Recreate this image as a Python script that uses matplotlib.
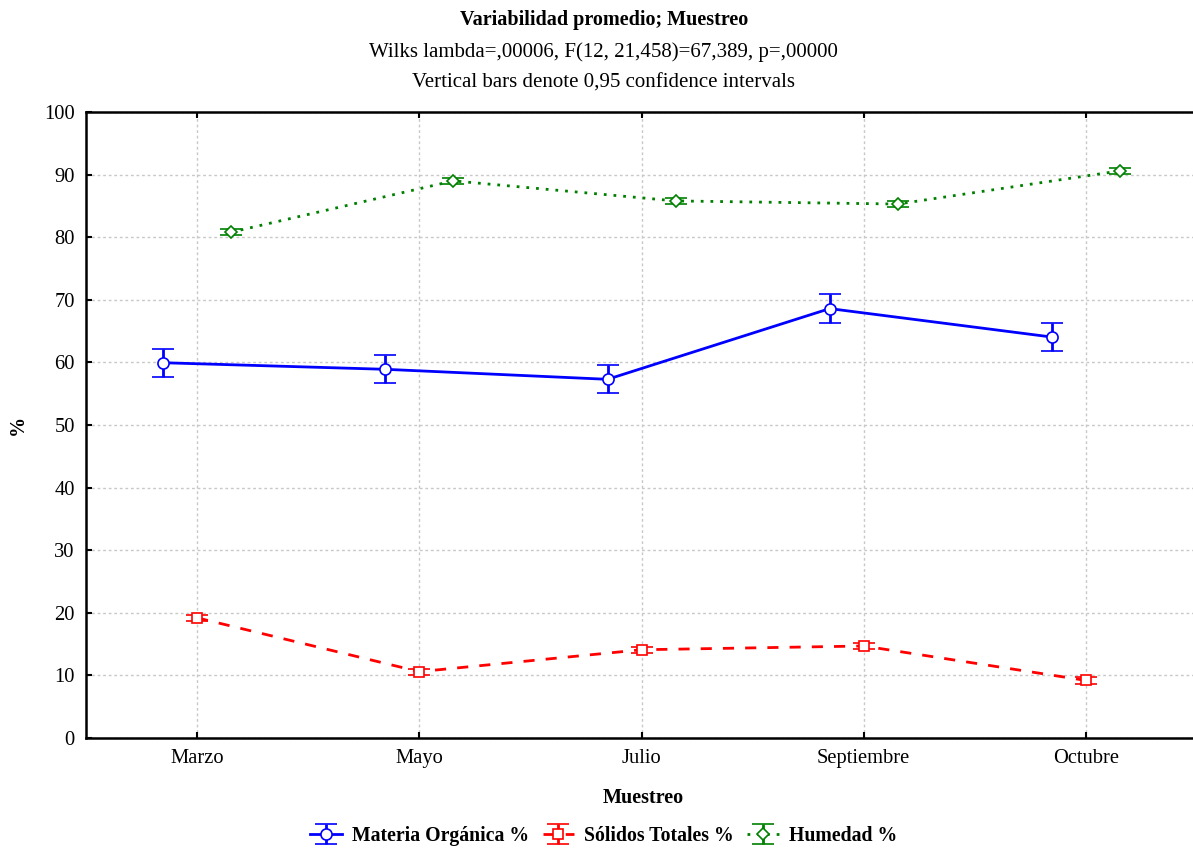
import matplotlib
matplotlib.use("Agg")
import matplotlib.pyplot as plt
import numpy as np

# Datos
meses = ["Marzo", "Mayo", "Julio", "Septiembre", "Octubre"]

materia = [59.95, 58.9, 57.3, 68.6, 64.05]
materia_ci = [2.2, 2.25, 2.25, 2.25, 2.25]

solidos = [19.2, 10.6, 14.1, 14.7, 9.2]
solidos_ci = [0.5, 0.5, 0.5, 0.5, 0.5]

humedad = [80.8, 89.0, 85.8, 85.3, 90.6]
humedad_ci = [0.45, 0.45, 0.45, 0.45, 0.45]

plt.rcParams['font.family'] = ['Liberation Serif', 'DejaVu Serif']

fig = plt.figure(figsize=(11.93, 8.48), dpi=100)
ax = fig.add_axes([0.0721, 0.1297, 0.9313, 0.7382])

x = np.arange(len(meses))
off = 0.153

ax.errorbar(x - off, materia, yerr=materia_ci, color='#0000ff', lw=2,
            marker='o', ms=8, mfc='white', mec='#0000ff', mew=1.2,
            capsize=8, capthick=2, elinewidth=2, label='Materia Orgánica %', zorder=4)
ax.errorbar(x, solidos, yerr=solidos_ci, color='#ff0000', lw=2, ls=(0, (4, 4)),
            marker='s', ms=7, mfc='white', mec='#ff0000', mew=1.2,
            capsize=8, capthick=2.5, elinewidth=2, label='Sólidos Totales %', zorder=4)
ax.errorbar(x + off, humedad, yerr=humedad_ci, color='#008000', lw=2, ls=(0, (1, 2.5)),
            marker='D', ms=6, mfc='white', mec='#008000', mew=1.2,
            capsize=8, capthick=2.5, elinewidth=2, label='Humedad %', zorder=4)

ax.set_xlim(-0.5, 4.5)
ax.set_ylim(0, 100)
ax.set_xticks(x)
ax.set_xticklabels(meses)
ax.set_yticks(np.arange(0, 101, 10))
ax.grid(True, color='#c8c8c8', ls=(0, (2, 2)), lw=1)
ax.tick_params(direction='in', top=True, length=4, width=1.5, labelsize=14.8, pad=8)
for s in ['left', 'bottom', 'top']:
    ax.spines[s].set_linewidth(1.8)
ax.spines['right'].set_visible(False)

fig.text(0.506, 0.976, 'Variabilidad promedio; Muestreo', ha='center', va='center',
         fontsize=14.5, fontweight='bold')
fig.text(0.506, 0.938, 'Wilks lambda=,00006, F(12, 21,458)=67,389, p=,00000',
         ha='center', va='center', fontsize=15)
fig.text(0.506, 0.902, 'Vertical bars denote 0,95 confidence intervals',
         ha='center', va='center', fontsize=15)
fig.text(0.539, 0.059, 'Muestreo', ha='center', va='center', fontsize=14.5, fontweight='bold')
fig.text(0.015, 0.499, '%', ha='center', va='center', fontsize=14.5, fontweight='bold',
         rotation=90)

fig.legend(loc='center', bbox_to_anchor=(0.506, 0.014), ncol=3, frameon=False,
           prop={'weight': 'bold', 'size': 14.2}, handlelength=1.6, columnspacing=0.7,
           handletextpad=0.5, borderaxespad=0)

fig.savefig('out.png', dpi=100)
